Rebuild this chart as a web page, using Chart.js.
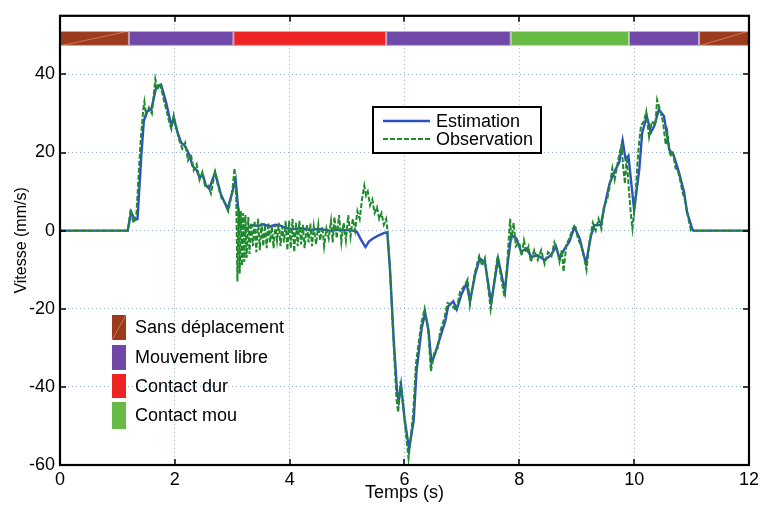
<!DOCTYPE html>
<html>
<head>
<meta charset="utf-8">
<script src="https://cdn.jsdelivr.net/npm/chart.js@4"></script>
<style>
  html, body { margin: 0; padding: 0; background: #fff; }
  #wrap { width: 763px; height: 506px; }
</style>
</head>
<body>
<div id="wrap"><canvas id="vitesse" width="763" height="506"></canvas></div>
<script>
// Estimation (blue, solid)
const tEst = [0, 1.18, 1.24, 1.30, 1.35, 1.42, 1.46, 1.51, 1.59, 1.68, 1.76, 1.85, 1.94, 1.98, 2.05, 2.11, 2.17, 2.25, 2.31, 2.38, 2.43, 2.49, 2.54, 2.60, 2.70, 2.80, 2.92, 3.06, 3.10, 3.15, 3.25, 3.35, 3.45, 3.55, 3.65, 3.75, 3.85, 3.95, 4.05, 4.20, 4.35, 4.50, 4.70, 4.90, 5.10, 5.17, 5.25, 5.32, 5.38, 5.45, 5.55, 5.65, 5.70, 5.75, 5.81, 5.87, 5.90, 5.94, 6.00, 6.08, 6.16, 6.21, 6.30, 6.36, 6.42, 6.47, 6.53, 6.62, 6.71, 6.76, 6.85, 6.91, 6.99, 7.08, 7.14, 7.23, 7.31, 7.40, 7.51, 7.63, 7.75, 7.80, 7.86, 7.95, 8.03, 8.12, 8.21, 8.32, 8.44, 8.55, 8.64, 8.70, 8.79, 8.87, 8.96, 9.05, 9.16, 9.25, 9.31, 9.42, 9.48, 9.57, 9.65, 9.74, 9.80, 9.85, 9.90, 10.00, 10.09, 10.14, 10.22, 10.29, 10.35, 10.43, 10.52, 10.61, 10.69, 10.78, 10.87, 10.92, 11.01, 11.03, 12];
const vEst = [0, 0, 4.8, 2.7, 3, 20, 28, 30.5, 31, 37, 37.4, 32.7, 26.8, 28.9, 25, 22.5, 21.8, 19.5, 16.5, 15.5, 13.6, 14.2, 11.6, 10.7, 14.9, 9.4, 5.5, 13, 6, 1, 0.5, 1.4, 1.2, 1.6, 1.0, 1.5, 1.2, 0.6, 0.4, 0.6, 0.2, 0.4, 0, 0.2, 0, -0.3, -2.5, -4.2, -2.8, -2, -1.2, -0.6, -0.4, -10.5, -27.4, -41, -43.7, -39.5, -48, -56, -48.6, -35.9, -24.9, -21.1, -25.7, -34, -31.6, -27.4, -23.2, -19.4, -18.1, -20.2, -16.4, -13.5, -18.1, -11.3, -7.1, -8, -18.5, -7.1, -15.6, -8, -1.2, -2, -5.4, -4.6, -6.7, -6.3, -7.5, -6.3, -4.1, -7.1, -4.6, -2.9, 0.9, -2, -8.4, -1.2, 1.4, 1.5, 6, 12, 14.9, 17.5, 23, 18.3, 19.2, 5.2, 15.8, 25.1, 29.3, 25.1, 26.8, 31, 29.3, 20.8, 19.2, 14.9, 9.8, 4.8, 0.5, 0, 0];

// Observation (green, dashed)
const tObs = [0, 1.18, 1.23, 1.28, 1.33, 1.40, 1.45, 1.47, 1.50, 1.55, 1.60, 1.66, 1.70, 1.74, 1.80, 1.85, 1.90, 1.94, 1.98, 2.03, 2.08, 2.13, 2.18, 2.23, 2.28, 2.33, 2.38, 2.43, 2.48, 2.53, 2.58, 2.63, 2.70, 2.76, 2.82, 2.88, 2.93, 3.00, 3.04, 3.07, 3.09, 3.11, 3.13, 3.15, 3.17, 3.19, 3.21, 3.23, 3.25, 3.28, 3.30, 3.33, 3.36, 3.39, 3.42, 3.45, 3.48, 3.51, 3.54, 3.57, 3.60, 3.63, 3.66, 3.69, 3.72, 3.75, 3.78, 3.81, 3.84, 3.87, 3.90, 3.93, 3.96, 3.99, 4.02, 4.05, 4.08, 4.11, 4.14, 4.17, 4.20, 4.23, 4.26, 4.30, 4.33, 4.36, 4.39, 4.42, 4.46, 4.50, 4.53, 4.57, 4.60, 4.64, 4.68, 4.72, 4.75, 4.78, 4.82, 4.86, 4.90, 4.94, 4.98, 5.02, 5.06, 5.10, 5.14, 5.18, 5.22, 5.26, 5.30, 5.33, 5.36, 5.40, 5.44, 5.48, 5.52, 5.56, 5.60, 5.64, 5.68, 5.70, 5.74, 5.80, 5.86, 5.89, 5.93, 5.99, 6.07, 6.15, 6.20, 6.29, 6.35, 6.41, 6.46, 6.52, 6.58, 6.62, 6.70, 6.75, 6.82, 6.90, 6.97, 7.05, 7.10, 7.14, 7.22, 7.30, 7.35, 7.40, 7.50, 7.62, 7.74, 7.79, 7.84, 7.86, 7.90, 7.94, 8.00, 8.04, 8.08, 8.12, 8.16, 8.20, 8.26, 8.32, 8.38, 8.44, 8.50, 8.56, 8.61, 8.66, 8.70, 8.74, 8.77, 8.82, 8.87, 8.93, 8.97, 9.02, 9.08, 9.13, 9.17, 9.22, 9.28, 9.33, 9.38, 9.43, 9.47, 9.53, 9.57, 9.62, 9.66, 9.72, 9.78, 9.81, 9.84, 9.87, 9.91, 9.95, 9.97, 10.02, 10.07, 10.12, 10.17, 10.21, 10.26, 10.31, 10.37, 10.40, 10.45, 10.50, 10.55, 10.58, 10.63, 10.67, 10.72, 10.76, 10.80, 10.84, 10.88, 10.92, 10.96, 10.99, 11.03, 12];
const vObs = [0, 0, 5.5, 2, 4, 22, 31, 33, 29.5, 31.5, 30, 38.8, 36, 37.8, 34, 31, 28, 26, 29.5, 26, 23, 21, 22.5, 18, 19.5, 15.5, 17, 13, 15, 11, 11.5, 9.5, 15, 11, 8, 7, 5, 10, 16, 8, -13, 6, -11, 5, -9, 4.5, -8, 4, -7, 3.5, -6, 2, -4, 2.5, -5.5, 3, -5, 2, -4, 1.5, -4.5, 2, -3, 1, -4.5, 1.5, -2.5, 2, -4, 1, -3, 2.5, -5, 2.5, -4.5, 3, -5.5, 2, -4, 2.5, -3.5, 1.5, -4.5, 1.5, -3, 1.8, -4, 1, -3.5, 1.5, -2.5, 1, -4, 0.5, -2, 2.5, -3, 3.5, -2, 4, -3, 2, -2.5, 4, -1.5, 3, 0, 5, 3, 8, 11.5, 9, 10, 6.5, 8, 4.5, 6, 3, 4.5, 1.5, 3, 0.5, -8, -26, -43, -46.5, -38.5, -47, -58.3, -47, -34, -24, -20, -25, -36, -31, -30, -26, -22, -18.5, -19, -20.5, -15.5, -14, -12.5, -19, -11, -6.5, -9, -7, -20, -6.5, -17, -8, 3, -2.5, 2, -4, -3, -6.5, -2.5, -5.5, -4, -8, -5, -7.5, -5, -8.5, -5.5, -6.5, -3, -5, -8, -5, -10.5, -3.5, -2, 0.5, 1.5, -2, -4, -7, -10, -3, 2, 0, 3, 0.5, 6, 8, 11, 16, 13, 18, 22, 16, 12, 19, 10, 3, 0.5, 8, 20, 27, 28, 30.5, 24, 28, 27, 33.5, 31, 28, 22, 25, 19, 20.5, 16, 15.5, 13, 10, 8, 5, 2, 0, 0, 0];

// phase band at the top
const phaseStart = [0, 1.2, 3.02, 5.68, 7.85, 9.91, 11.13];
const phaseEnd = [1.2, 3.02, 5.68, 7.85, 9.91, 11.13, 12];
const phaseKind = [0, 1, 2, 1, 3, 1, 0];
const phaseNames = ["Sans déplacement", "Mouvement libre", "Contact dur", "Contact mou"];
const phaseColors = ["#9c3a1e", "#7048a8", "#ee2424", "#66bb44"];
const bandLow = 47.3, bandHigh = 51.1;

const seriesNames = ["Estimation", "Observation"];
const xTicks = [0, 2, 4, 6, 8, 10, 12];
const yTicks = [-60, -40, -20, 0, 20, 40];

const FONT = "'Liberation Sans', Arial, Helvetica, sans-serif";

function drawBrown(ctx, x, y, w, h) {
    ctx.fillStyle = phaseColors[0];
    ctx.fillRect(x, y, w, h);
    ctx.strokeStyle = "rgba(230,140,100,0.7)";
    ctx.lineWidth = 1;
    ctx.beginPath();
    ctx.moveTo(x, y + h);
    ctx.lineTo(x + w, y);
    ctx.stroke();
}

const decor = {
    id: "decor",
    beforeDatasetsDraw(chart) {
        const ctx = chart.ctx, xs = chart.scales.x, ys = chart.scales.y;
        const top = ys.getPixelForValue(bandHigh), bot = ys.getPixelForValue(bandLow);
        ctx.save();
        for (let i = 0; i < phaseStart.length; i++) {
            const x0 = xs.getPixelForValue(phaseStart[i]);
            const x1 = xs.getPixelForValue(phaseEnd[i]);
            if (phaseKind[i] === 0) {
                drawBrown(ctx, x0, top, x1 - x0, bot - top);
            } else {
                ctx.fillStyle = phaseColors[phaseKind[i]];
                ctx.fillRect(x0, top, x1 - x0, bot - top);
            }
            ctx.strokeStyle = "rgba(255,255,255,0.55)";
            ctx.lineWidth = 1;
            ctx.strokeRect(x0 + 0.5, top + 0.5, x1 - x0 - 1, bot - top - 1);
        }
        ctx.restore();
    },
    afterDraw(chart) {
        const ctx = chart.ctx, a = chart.chartArea;
        const xs = chart.scales.x, ys = chart.scales.y;
        ctx.save();
        // frame + inward ticks
        ctx.strokeStyle = "#000";
        ctx.lineWidth = 2.2;
        ctx.strokeRect(a.left, a.top, a.right - a.left, a.bottom - a.top);
        ctx.lineWidth = 1.5;
        ctx.beginPath();
        xTicks.slice(1, -1).forEach(t => {
            const px = Math.round(xs.getPixelForValue(t));
            ctx.moveTo(px, a.bottom); ctx.lineTo(px, a.bottom - 6);
            ctx.moveTo(px, a.top); ctx.lineTo(px, a.top + 6);
        });
        yTicks.slice(1).forEach(v => {
            const py = Math.round(ys.getPixelForValue(v));
            ctx.moveTo(a.left, py); ctx.lineTo(a.left + 6, py);
            ctx.moveTo(a.right, py); ctx.lineTo(a.right - 6, py);
        });
        ctx.stroke();

        // series legend
        ctx.fillStyle = "#fff";
        ctx.fillRect(373, 107, 168, 46);
        ctx.strokeStyle = "#000";
        ctx.lineWidth = 2;
        ctx.strokeRect(373, 107, 168, 46);
        ctx.font = "18px " + FONT;
        ctx.textBaseline = "middle";
        ctx.fillStyle = "#000";
        const ds = chart.data.datasets;
        [121, 139].forEach((y, i) => {
            ctx.strokeStyle = ds[i].borderColor;
            ctx.lineWidth = ds[i].borderWidth;
            ctx.setLineDash(ds[i].borderDash || []);
            ctx.beginPath();
            ctx.moveTo(383, y); ctx.lineTo(430, y);
            ctx.stroke();
            ctx.setLineDash([]);
            ctx.fillText(seriesNames[i], 436, y + 1);
        });

        // phase legend
        const rows = [[315, 25], [345, 25], [374, 24], [402, 27]];
        rows.forEach((r, i) => {
            if (i === 0) drawBrown(ctx, 112, r[0], 14, r[1]);
            else { ctx.fillStyle = phaseColors[i]; ctx.fillRect(112, r[0], 14, r[1]); }
            ctx.fillStyle = "#000";
            ctx.fillText(phaseNames[i], 135, r[0] + r[1] / 2 + 1);
        });
        ctx.restore();
    }
};

const ctx = document.getElementById("vitesse").getContext("2d");
const chart = new Chart(ctx, {
    type: "line",
    data: {
        datasets: [
            {
                label: seriesNames[0],
                data: tEst.map((t, i) => ({x: t, y: vEst[i]})),
                borderColor: "#2f50c4",
                borderWidth: 2.4,
                pointRadius: 0,
                tension: 0,
                fill: false,
                order: 2,
            },
            {
                label: seriesNames[1],
                data: tObs.map((t, i) => ({x: t, y: vObs[i]})),
                borderColor: "#1e8a2c",
                borderWidth: 2,
                borderDash: [5, 2],
                pointRadius: 0,
                tension: 0,
                fill: false,
                order: 1,
            },
        ],
    },
    options: {
        responsive: false,
        animation: false,
        layout: {padding: {top: 12, right: 11, left: 0, bottom: 0}},
        plugins: {legend: {display: false}, tooltip: {enabled: false}},
        scales: {
            x: {
                type: "linear",
                min: 0,
                max: 12,
                afterBuildTicks: s => { s.ticks = xTicks.map(v => ({value: v})); },
                afterFit: s => { s.height = 41; },
                ticks: {color: "#000", font: {family: FONT, size: 18}, padding: 4, maxRotation: 0},
                grid: {color: "rgba(110,150,185,0.75)", lineWidth: 1, drawTicks: false},
                border: {display: false, dash: [1, 3]},
                title: {display: true, text: "Temps (s)", color: "#000",
                    font: {family: FONT, size: 18}, padding: {top: 0, bottom: 2}},
            },
            y: {
                min: -60,
                max: 55,
                afterBuildTicks: s => { s.ticks = yTicks.map(v => ({value: v})); },
                afterFit: s => { s.width = 60; },
                ticks: {color: "#000", font: {family: FONT, size: 18}, padding: 5},
                grid: {color: "rgba(110,150,185,0.75)", lineWidth: 1, drawTicks: false},
                border: {display: false, dash: [1, 3]},
                title: {display: true, text: "Vitesse (mm/s)", color: "#000",
                    font: {family: FONT, size: 16}, padding: {top: 12, bottom: 0}},
            },
        },
    },
    plugins: [decor],
});
</script>
</body>
</html>
